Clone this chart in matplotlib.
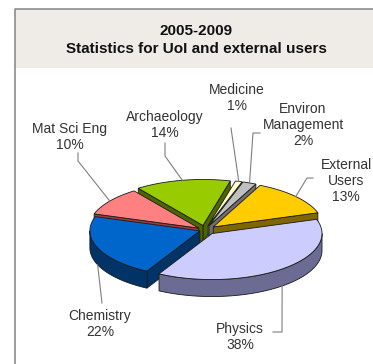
import numpy as np
import matplotlib.pyplot as plt
from matplotlib.patches import Polygon, Rectangle

# usage share by group, clockwise from the right-hand side of the pie
groups = ['Physics', 'Chemistry', 'Mat Sci Eng', 'Archaeology',
          'Medicine', 'Environ\nManagement', 'External\nUsers']
shares = [38, 22, 10, 14, 1, 2, 13]

top_colors = ['#ccccff', '#0066cc', '#ff8080', '#99cc00',
              '#ffffcc', '#c0c0c0', '#ffcc00']
side_colors = ['#6b6b94', '#003366', '#993d3d', '#4d6600',
               '#8c8c66', '#6e6e6e', '#806600']
explode = [0.10, 0.05, 0.07, 0.10, 0.10, 0.10, 0.10]

# label centres and leader-line start points (pixels)
label_pos = [(240, 337), (100, 324), (70, 137), (165, 125),
             (237, 98), (303, 125), (346, 181)]
leader_start = [[(273, 332), (282, 332)], [(102, 303)], [(78, 153), (78, 161)],
                [(165, 143), (165, 156)], [(231, 128)],
                [(260, 133), (253, 133)], [(313, 178), (307, 178)]]

W, H = 373, 364
cx, cy = 205, 230
rx, ry = 110, 46
depth = 17
start = 18.0

plt.rcParams['font.family'] = ['Liberation Sans', 'DejaVu Sans']

fig = plt.figure(figsize=(W / 100, H / 100), dpi=100)
ax = fig.add_axes([0, 0, 1, 1])
ax.set_xlim(0, W)
ax.set_ylim(H, 0)
ax.axis('off')

# frame and title band
ax.add_patch(Rectangle((15, 9), W, 59, facecolor='#efece8', edgecolor='none', zorder=0))
ax.plot([15, 15, W], [H, 9, 9], color='#8c8c8c', lw=1.2, zorder=1)
ax.text(196, 31, '2005-2009', ha='center', va='center', fontsize=11,
        fontweight='bold', color='#111111')
ax.text(196, 49, 'Statistics for UoI and external users', ha='center',
        va='center', fontsize=11, fontweight='bold', color='#111111')

# slice angle ranges (degrees, counter-clockwise), laid out clockwise
angles = []
b = start + 360
for s in shares:
    a = b - s * 3.6
    angles.append((a, b))
    b = a


def rim(t, e, mid):
    t, mid = np.radians(t), np.radians(mid)
    return (cx + rx * np.cos(t) + e * rx * np.cos(mid),
            cy - ry * np.sin(t) - e * ry * np.sin(mid))


def centre(e, mid):
    m = np.radians(mid)
    return (cx + e * rx * np.cos(m), cy - e * ry * np.sin(m))


ec = '#1a1a1a'
lw = 0.6
mids = [(a + b) / 2 for a, b in angles]
order = sorted(range(len(shares)), key=lambda i: -np.sin(np.radians(mids[i])))

# walls, back to front
for i in order:
    a, b = angles[i]
    e, m = explode[i], mids[i]
    c = centre(e, m)
    for t, vis in ((a, np.cos(np.radians(a)) > 0), (b, np.cos(np.radians(b)) < 0)):
        if vis:
            p = rim(t, e, m)
            poly = [c, p, (p[0], p[1] + depth), (c[0], c[1] + depth)]
            ax.add_patch(Polygon(poly, closed=True, facecolor=side_colors[i],
                                 edgecolor=ec, lw=lw, zorder=2))
    for lo, hi in ((180, 360), (540, 720)):
        s0, s1 = max(a, lo), min(b, hi)
        if s1 > s0:
            ts = np.linspace(s0, s1, 60)
            upper = [rim(t, e, m) for t in ts]
            lower = [(x, y + depth) for x, y in upper[::-1]]
            ax.add_patch(Polygon(upper + lower, closed=True, facecolor=side_colors[i],
                                 edgecolor=ec, lw=lw, zorder=3))

# top faces
for i, (a, b) in enumerate(angles):
    e, m = explode[i], mids[i]
    ts = np.linspace(a, b, max(int(b - a) * 2, 4))
    poly = [centre(e, m)] + [rim(t, e, m) for t in ts]
    ax.add_patch(Polygon(poly, closed=True, facecolor=top_colors[i],
                         edgecolor=ec, lw=lw, zorder=4))

# labels with leader lines
for i, name in enumerate(groups):
    e, m = explode[i], mids[i]
    end = rim(m, e, m)
    if np.sin(np.radians(m)) < 0:
        end = (end[0], end[1] + depth)
    pts = leader_start[i] + [end]
    ax.plot([p[0] for p in pts], [p[1] for p in pts], color='#7f7f7f',
            lw=0.8, zorder=5)
    x, y = label_pos[i]
    ax.text(x, y, f'{name}\n{shares[i]}%', ha='center', va='center',
            fontsize=10, color='#333333', linespacing=1.15, zorder=6)

fig.savefig('out.png', dpi=100)
